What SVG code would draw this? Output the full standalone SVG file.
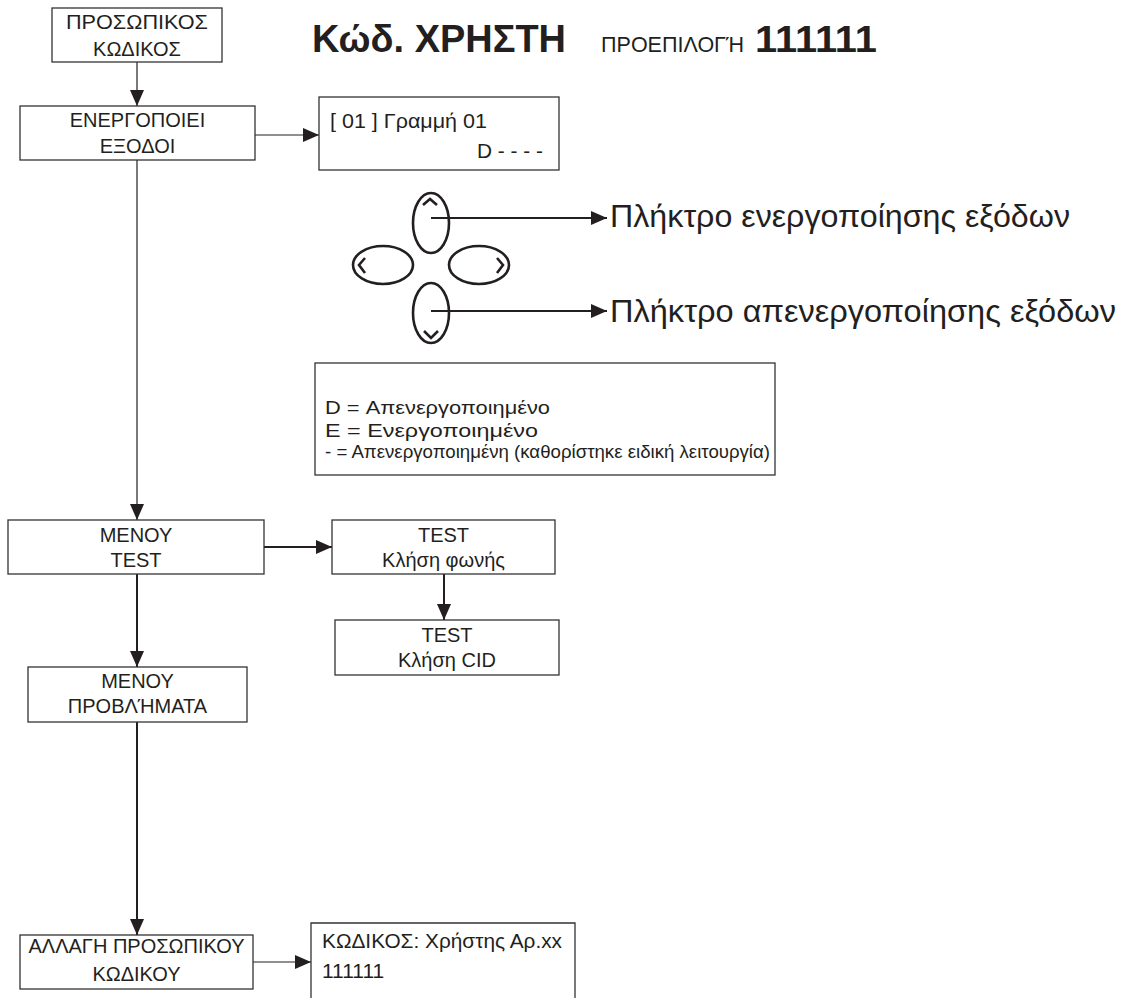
<svg xmlns="http://www.w3.org/2000/svg" width="1124" height="998" viewBox="0 0 1124 998">
<style>
text{font-family:"Liberation Sans",Arial,sans-serif;fill:#231f20}
.n{font-size:20px;text-anchor:middle}
.l{font-size:20px}
.box{fill:#fff;stroke:#333;stroke-width:1.3}
.c{stroke:#231f20;stroke-width:1.2;fill:none}
.t{stroke:#231f20;stroke-width:2;fill:none}
.k{stroke:#231f20;stroke-width:2.6;fill:none}
</style>
<defs>
<marker id="a" markerUnits="userSpaceOnUse" markerWidth="16" markerHeight="14" refX="16" refY="7" orient="auto">
<path d="M0,0 L16,7 L0,14 z" fill="#231f20"/>
</marker>
</defs>
<rect width="1124" height="998" fill="#fff"/>
<g id="title">
<text x="312" y="52" font-size="38" font-weight="bold" textLength="254" lengthAdjust="spacingAndGlyphs">Κώδ. ΧΡΗΣΤΗ</text>
<text x="601" y="52" font-size="22" textLength="143" lengthAdjust="spacingAndGlyphs">ΠΡΟΕΠΙΛΟΓΉ</text>
<text x="755" y="52" font-size="37" font-weight="bold" textLength="122" lengthAdjust="spacingAndGlyphs">111111</text>
</g>
<g id="connectors">
<line class="c" x1="137" y1="62" x2="137" y2="106" marker-end="url(#a)"/>
<line class="c" x1="255" y1="135" x2="319" y2="135" marker-end="url(#a)"/>
<line class="c" x1="137" y1="160" x2="137" y2="520" marker-end="url(#a)"/>
<line class="t" x1="264" y1="547" x2="332" y2="547" marker-end="url(#a)"/>
<line class="t" x1="444" y1="574" x2="444" y2="620" marker-end="url(#a)"/>
<line class="t" x1="137" y1="574" x2="137" y2="667" marker-end="url(#a)"/>
<line class="t" x1="137" y1="722" x2="137" y2="935" marker-end="url(#a)"/>
<line class="c" x1="253" y1="962" x2="311" y2="962" marker-end="url(#a)"/>
<line class="t" x1="431" y1="218" x2="607" y2="218" marker-end="url(#a)"/>
<line class="t" x1="431" y1="311" x2="607" y2="311" marker-end="url(#a)"/>
</g>
<g id="n1">
<rect class="box" x="52" y="8" width="170" height="54"/>
<text class="n" x="137" y="29" textLength="142" lengthAdjust="spacingAndGlyphs">ΠΡΟΣΩΠΙΚΟΣ</text>
<text class="n" x="137" y="56">ΚΩΔΙΚΟΣ</text>
</g>
<g id="n2">
<rect class="box" x="20" y="106" width="235" height="54"/>
<text class="n" x="137.5" y="127">ΕΝΕΡΓΟΠΟΙΕΙ</text>
<text class="n" x="137.5" y="153">ΕΞΟΔΟΙ</text>
</g>
<g id="n3">
<rect class="box" x="319" y="97" width="240" height="73"/>
<text class="l" x="330" y="128" textLength="157" lengthAdjust="spacingAndGlyphs">[ 01 ]  Γραμμή 01</text>
<text class="l" x="477" y="158" textLength="66" lengthAdjust="spacingAndGlyphs">D - - - -</text>
</g>
<g id="keys">
<ellipse class="k" cx="431" cy="223" rx="18" ry="30"/>
<ellipse class="k" cx="383" cy="265" rx="30" ry="19"/>
<ellipse class="k" cx="479" cy="265" rx="30" ry="19"/>
<ellipse class="k" cx="431" cy="313" rx="18" ry="30"/>
<polyline class="k" points="423,205 430,199 437,205"/>
<polyline class="k" points="365,258 359,265 365,273"/>
<polyline class="k" points="497,258 503,265 497,273"/>
<polyline class="k" points="424,331 431,338 438,331"/>
</g>
<g id="keylabels">
<text x="610" y="227" font-size="31" textLength="460" lengthAdjust="spacingAndGlyphs">Πλήκτρο ενεργοποίησης εξόδων</text>
<text x="610" y="322" font-size="31" textLength="506" lengthAdjust="spacingAndGlyphs">Πλήκτρο απενεργοποίησης εξόδων</text>
</g>
<g id="legend">
<rect class="box" x="315" y="363" width="460" height="112"/>
<text x="325" y="414" font-size="19" textLength="225" lengthAdjust="spacingAndGlyphs">D = Απενεργοποιημένο</text>
<text x="325" y="437" font-size="19" textLength="213" lengthAdjust="spacingAndGlyphs">E = Ενεργοποιημένο</text>
<text x="325" y="458" font-size="19" textLength="445" lengthAdjust="spacingAndGlyphs">- = Απενεργοποιημένη (καθορίστηκε ειδική λειτουργία)</text>
</g>
<g id="n4">
<rect class="box" x="8" y="520" width="256" height="54"/>
<text class="n" x="136" y="542">ΜΕΝΟΥ</text>
<text class="n" x="136" y="567">TEST</text>
</g>
<g id="n5">
<rect class="box" x="332" y="520" width="223" height="54"/>
<text class="n" x="443.5" y="542">TEST</text>
<text class="n" x="443.5" y="567">Κλήση φωνής</text>
</g>
<g id="n6">
<rect class="box" x="335" y="620" width="224" height="55"/>
<text class="n" x="447" y="642">TEST</text>
<text class="n" x="447" y="667">Κλήση CID</text>
</g>
<g id="n7">
<rect class="box" x="28" y="667" width="219" height="55"/>
<text class="n" x="137.5" y="688">ΜΕΝΟΥ</text>
<text class="n" x="137.5" y="713">ΠΡΟΒΛΉΜΑΤΑ</text>
</g>
<g id="n8">
<rect class="box" x="20" y="935" width="233" height="54"/>
<text class="n" x="136.5" y="953">ΑΛΛΑΓΗ ΠΡΟΣΩΠΙΚΟΥ</text>
<text class="n" x="136.5" y="981">ΚΩΔΙΚΟΥ</text>
</g>
<g id="n9">
<path class="box" d="M311,1000 V923 H575 V1000"/>
<text x="322" y="948" font-size="21" textLength="240" lengthAdjust="spacingAndGlyphs">ΚΩΔΙΚΟΣ: Χρήστης Αρ.xx</text>
<text x="322" y="978" font-size="21">111111</text>
</g>
</svg>
